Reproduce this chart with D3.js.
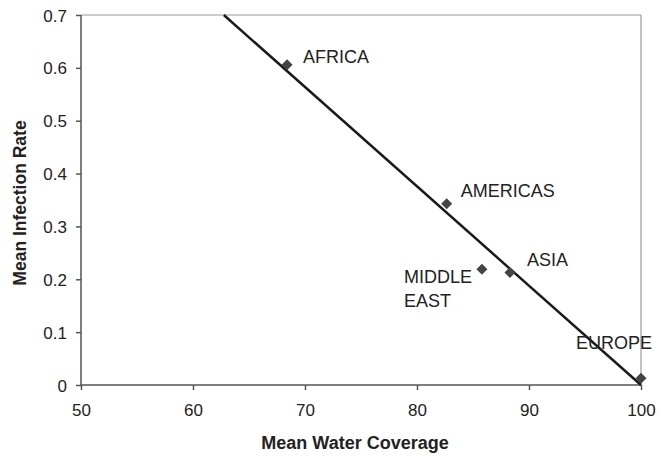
<!DOCTYPE html>
<html><head><meta charset="utf-8">
<script src="https://cdn.jsdelivr.net/npm/d3@7"></script>
<style>body{margin:0;background:#fff}svg{display:block}text{font-family:"Liberation Sans",Arial,sans-serif;fill:#222}</style>
</head><body><svg id="c" width="669" height="456"></svg>
<script>
const regions = ["AFRICA","AMERICAS","MIDDLE EAST","ASIA","EUROPE"];
const waterCoverage = [68.4, 82.65, 85.8, 88.3, 100.0];
const infectionRate = [0.606, 0.343, 0.219, 0.213, 0.013];
const fitX = [62.75, 100.0];
const fitY = [0.7, 0.0];
const xTicks = [50,60,70,80,90,100];
const yTicks = [0,0.1,0.2,0.3,0.4,0.5,0.6,0.7];

const svg = d3.select("#c");
const m = {l:81, r:641, t:15, b:385};
const x = d3.scaleLinear().domain([50,100]).range([m.l,m.r]);
const y = d3.scaleLinear().domain([0,0.7]).range([m.b,m.t]);

// frame top/right
svg.append("line").attr("x1",m.l).attr("x2",m.r).attr("y1",m.t).attr("y2",m.t).attr("stroke","#999").attr("stroke-width",1.2);
svg.append("line").attr("x1",m.r).attr("x2",m.r).attr("y1",m.t).attr("y2",m.b).attr("stroke","#999").attr("stroke-width",1.2);

const xa = svg.append("g").attr("transform",`translate(0,${m.b})`)
  .call(d3.axisBottom(x).tickValues(xTicks).tickSize(5).tickPadding(14).tickFormat(d3.format("d")));
const ya = svg.append("g").attr("transform",`translate(${m.l},0)`)
  .call(d3.axisLeft(y).tickValues(yTicks).tickSize(5).tickPadding(9).tickFormat(d=>d===0?"0":d3.format(".1f")(d)));
[xa,ya].forEach(g=>{
  g.selectAll("path,line").attr("stroke","#555").attr("stroke-width",1.5);
  g.selectAll("text").attr("font-size",17).attr("fill","#222").style("font-family","Liberation Sans, Arial, sans-serif");
});
ya.select(".domain").attr("d",`M0,${m.t}V${m.b}`);
xa.select(".domain").attr("d",`M${m.l},0H${m.r}`);
xa.selectAll(".tick text").attr("dy","0.71em");
ya.selectAll(".tick text").attr("dy","0.36em");

// fit line
svg.append("line")
  .attr("x1",x(fitX[0])).attr("y1",y(fitY[0]))
  .attr("x2",x(fitX[1])).attr("y2",y(fitY[1]))
  .attr("stroke","#1a1a1a").attr("stroke-width",2.5);

// points (diamonds)
const h = 5.5;
svg.selectAll(".pt").data(regions).join("path")
  .attr("d",`M0,${-h}L${h},0L0,${h}L${-h},0Z`)
  .attr("transform",(d,i)=>`translate(${x(waterCoverage[i])},${y(infectionRate[i])})`)
  .attr("fill","#444");

// labels
const off = {"AFRICA":[[16,-2]],"AMERICAS":[[14,-7]],"MIDDLE EAST":[[-78,14],[-78,38]],"ASIA":[[17,-6]],"EUROPE":[[-65,-29]]};
regions.forEach((r,i)=>{
  const parts = r==="MIDDLE EAST" ? ["MIDDLE","EAST"] : [r];
  parts.forEach((p,j)=>{
    svg.append("text").attr("x",x(waterCoverage[i])+off[r][j][0]).attr("y",y(infectionRate[i])+off[r][j][1])
      .attr("font-size",18).text(p);
  });
});

// axis titles
svg.append("text").attr("x",355).attr("y",449).attr("text-anchor","middle")
  .attr("font-size",18).attr("font-weight","bold").text("Mean Water Coverage");
svg.append("text").attr("transform",`translate(26,203) rotate(-90)`).attr("text-anchor","middle")
  .attr("font-size",17.5).attr("font-weight","bold").text("Mean Infection Rate");
</script></body></html>
